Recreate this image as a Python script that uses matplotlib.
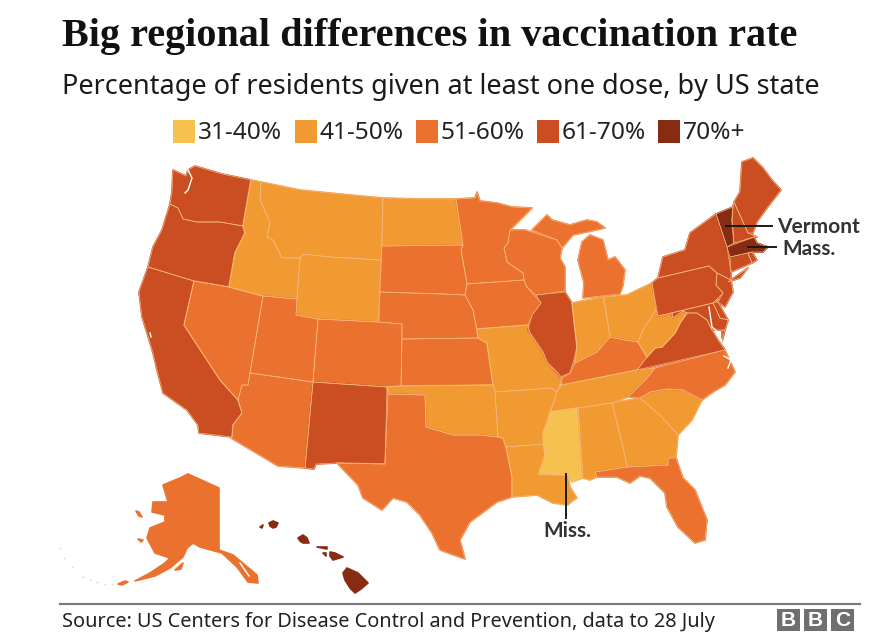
import matplotlib
matplotlib.use('Agg')
import matplotlib.pyplot as plt
from matplotlib.patches import Polygon, Rectangle

legend_labels = ['31-40%', '41-50%', '51-60%', '61-70%', '70%+']
colors = ['#F6C14F', '#F09A31', '#EB722E', '#CB4E23', '#872C12']

# vaccination band per state, index into legend_labels
bands = {
    'WA': 3, 'OR': 3, 'CA': 3, 'NV': 2, 'ID': 1, 'MT': 1, 'WY': 1, 'UT': 2, 'AZ': 2, 'CO': 2,
    'NM': 3, 'ND': 1, 'SD': 2, 'NE': 2, 'KS': 2, 'OK': 1, 'TX': 2, 'MN': 2, 'IA': 2, 'MO': 1,
    'AR': 1, 'LA': 1, 'WI': 2, 'IL': 3, 'MI': 2, 'IN': 1, 'OH': 1, 'KY': 2, 'TN': 1, 'MS': 0,
    'AL': 1, 'GA': 1, 'FL': 2, 'SC': 1, 'NC': 2, 'VA': 3, 'WV': 1, 'PA': 3, 'NY': 3, 'NJ': 3,
    'DE': 3, 'MD': 3, 'CT': 3, 'RI': 3, 'MA': 4, 'VT': 4, 'NH': 3, 'ME': 3, 'AK': 2, 'HI': 4,
}

# outlines, in image pixels
shapes = {
    'WA': [[(173,170),(186,176),(188,170),(195,166),(222,174),(251,180),(243,226),(220,222),(197,222),(183,219),(178,208),(170,204),(172,192)]],
    'OR': [[(170,204),(178,208),(183,219),(197,222),(220,222),(243,226),(245,233),(235,253),(229,287),(194,281),(148,267),(153,247),(162,230)]],
    'CA': [[(148,267),(194,281),(184,325),(220,380),(238,400),(242,413),(233,425),(232,437),(199,433),(198,425),(187,410),(163,393),(157,370),(153,353),(147,333),(142,317),(139,292)]],
    'NV': [[(194,281),(229,287),(263,296),(250,373),(248,385),(242,385),(238,400),(220,380),(184,325)]],
    'ID': [[(251,180),(261,182),(260,200),(270,222),(267,237),(273,240),(282,258),(300,258),(297,299),(263,296),(229,287),(235,253),(245,233),(243,226)]],
    'MT': [[(261,182),(300,190),(340,194),(383,198),(381,260),(330,257),(303,254),(300,258),(282,258),(273,240),(267,237),(270,222),(260,200)]],
    'WY': [[(303,254),(330,257),(381,260),(378,322),(318,319),(296,315),(297,299),(300,258)]],
    'UT': [[(263,296),(297,299),(296,315),(318,319),(313,382),(251,373),(250,373)]],
    'CO': [[(318,319),(378,322),(402,324),(401,386),(387,387),(313,382)]],
    'AZ': [[(250,373),(313,382),(305,468),(278,466),(231,438),(232,437),(233,425),(242,413),(238,400),(242,385),(248,385)]],
    'NM': [[(313,382),(387,387),(385,464),(337,463),(316,464),(314,469),(305,468)]],
    'ND': [[(383,198),(420,199),(456,199),(463,245),(382,246)]],
    'SD': [[(382,246),(463,245),(461,250),(467,283),(465,295),(443,294),(380,292)]],
    'NE': [[(380,292),(443,294),(465,295),(473,310),(478,338),(402,339),(402,324),(379,322)]],
    'KS': [[(402,339),(478,338),(487,343),(493,385),(401,386)]],
    'OK': [[(387,387),(401,386),(493,385),(495,392),(498,437),(480,435),(453,435),(426,427),(425,395),(388,394)]],
    'TX': [[(388,394),(425,395),(426,427),(453,435),(480,435),(498,437),(503,438),(506,447),(512,477),(512,497),(497,502),(470,522),(460,540),(465,559),(440,550),(432,533),(420,515),(407,502),(393,498),(382,510),(363,498),(358,485),(337,463),(385,464)]],
    'MN': [[(456,199),(475,198),(477,192),(480,201),(497,203),(512,207),(532,208),(510,230),(508,243),(504,248),(507,262),(523,273),(524,280),(467,284),(461,250),(463,245)]],
    'IA': [[(467,284),(524,280),(527,287),(541,303),(532,315),(528,325),(477,329),(473,310),(465,295)]],
    'MO': [[(477,329),(528,325),(530,333),(543,352),(547,362),(558,373),(562,378),(557,392),(552,388),(495,392),(493,385),(487,343),(478,338)]],
    'AR': [[(495,392),(552,388),(557,392),(548,420),(543,433),(543,444),(506,447),(503,438),(498,437)]],
    'LA': [[(506,447),(543,444),(545,455),(539,474),(568,475),(570,487),(577,498),(572,501),(568,505),(553,503),(537,495),(512,497),(512,477)]],
    'WI': [[(510,230),(525,230),(557,240),(562,248),(560,258),(565,267),(565,291),(536,295),(527,287),(524,280),(523,273),(507,262),(504,248),(508,243)]],
    'IL': [[(536,295),(565,292),(572,303),(577,347),(573,363),(570,373),(560,377),(547,362),(543,352),(528,330),(532,315),(541,303)]],
    'MI': [[(532,230),(547,215),(552,220),(570,225),(587,220),(597,222),(605,228),(587,232),(573,235),(562,248),(557,240)],
           [(590,235),(603,240),(608,260),(615,257),(625,270),(623,285),(620,294),(583,298),(584,283),(578,260),(582,242)]],
    'IN': [[(572,303),(603,297),(610,337),(597,352),(575,363),(577,347)]],
    'OH': [[(604,297),(627,295),(652,283),(656,310),(643,330),(638,342),(625,340),(610,337)]],
    'KY': [[(562,378),(570,373),(575,363),(597,352),(610,337),(625,340),(638,342),(647,357),(637,370),(562,385)]],
    'TN': [[(562,385),(637,370),(655,368),(647,378),(628,397),(612,403),(578,408),(550,412),(557,392)]],
    'MS': [[(550,412),(578,408),(583,478),(572,482),(568,475),(539,474),(545,455),(543,433),(548,420)]],
    'AL': [[(578,408),(612,403),(623,447),(627,467),(595,472),(597,477),(590,480),(583,478)]],
    'GA': [[(612,403),(640,398),(662,417),(678,435),(676,457),(668,458),(668,465),(627,467),(623,447)]],
    'FL': [[(595,472),(627,467),(668,465),(668,458),(676,458),(683,478),(695,490),(707,520),(705,540),(695,543),(678,527),(667,507),(665,493),(650,478),(640,476),(630,483),(617,477),(597,477)]],
    'SC': [[(640,398),(650,392),(668,389),(683,390),(702,400),(692,420),(678,435),(662,417)]],
    'NC': [[(655,368),(725,350),(735,372),(725,385),(713,392),(702,400),(683,390),(668,389),(650,392),(640,398),(628,397),(647,378)]],
    'VA': [[(637,370),(647,357),(655,348),(662,347),(675,333),(680,323),(687,313),(697,313),(707,320),(712,330),(718,340),(723,347),(725,350)],
           [(722,330),(725,330),(722,342)]],
    'WV': [[(656,310),(658,316),(672,313),(673,318),(683,311),(687,313),(680,323),(675,333),(662,347),(655,348),(647,357),(638,342),(643,330)]],
    'PA': [[(652,283),(658,278),(709,266),(717,273),(716,285),(723,293),(713,303),(658,316)]],
    'NY': [[(658,278),(663,257),(685,250),(690,233),(716,214),(727,247),(731,272),(731,280),(717,273),(709,266)],
           [(728,282),(748,268),(740,278)]],
    'NJ': [[(717,273),(731,280),(733,292),(725,307),(718,302),(723,293),(716,285)]],
    'DE': [[(713,303),(718,302),(728,320),(720,318)]],
    'MD': [[(672,313),(713,303),(720,318),(728,320),(725,330),(712,330),(707,320),(697,313),(687,313),(683,311),(673,318)]],
    'CT': [[(730,257),(748,253),(752,263),(731,272)]],
    'RI': [[(748,253),(752,252),(757,260),(752,263)]],
    'MA': [[(727,247),(754,237),(757,243),(768,247),(763,252),(752,252),(748,253),(730,257)]],
    'VT': [[(716,214),(733,207),(732,220),(734,243),(727,247)]],
    'NH': [[(734,202),(748,233),(757,237),(754,237),(734,243),(732,220),(733,207)]],
    'ME': [[(734,202),(740,192),(742,162),(753,158),(763,168),(772,180),(781,190),(767,208),(757,222),(753,233),(748,233)]],
    'AK': [[(163,485),(180,478),(188,474),(219,488),(219,550),(233,555),(257,575),(258,583),(248,582),(237,567),(222,553),(200,547),(193,543),(187,548),(183,557),(170,568),(155,576),(135,581),(150,573),(165,563),(170,558),(155,553),(147,538),(150,528),(165,522),(165,515),(152,512),(153,502),(168,502)],
           [(175,570),(183,563),(181,569)], [(138,539),(143,540),(141,542)], [(136,511),(139,512),(142,517),(139,516)],
           [(118,584),(125,581),(128,582),(122,585)]],
    'HI': [[(347,568),(358,573),(368,583),(361,589),(355,593),(350,588),(345,580),(343,573)],
           [(330,552),(335,553),(343,557),(333,560),(330,556)],
           [(298,538),(303,535),(307,538),(309,543),(303,543),(300,541)],
           [(269,523),(273,521),(278,523),(276,527),(273,528),(270,526)],
           [(260,527),(263,525),(262,528)], [(317,547),(327,547),(327,549)], [(323,553),(326,553),(326,556)]],
}

# water cut into the coast, drawn as thin white lines
inlets = [
    [(188,170),(192,178),(188,190),(185,193)],
    [(709,307),(712,327),(718,332),(722,342)],
    [(724,356),(731,360),(728,368)],
    [(150,333),(151,337)],
    [(240,563),(249,576)],
]

# Aleutian specks
aleutian_x = [60, 64, 72, 83, 90, 97, 105, 112]
aleutian_y = [548, 558, 567, 577, 580, 582, 584, 584]

fig = plt.figure(figsize=(8.94, 6.44), dpi=100)
ax = fig.add_axes([0, 0, 1, 1])
ax.set_xlim(0, 894)
ax.set_ylim(644, 0)
ax.axis('off')

# first pass closes the seams between neighbours, second draws the pale borders
for state, parts in shapes.items():
    for part in parts:
        ax.add_patch(Polygon(part, closed=True, facecolor=colors[bands[state]],
                             edgecolor=colors[bands[state]], linewidth=1.2, joinstyle='round'))
for state, parts in shapes.items():
    if state in ('AK', 'HI'):
        continue
    for part in parts:
        ax.add_patch(Polygon(part, closed=True, facecolor='none',
                             edgecolor='#F6B67C', linewidth=0.5, joinstyle='round'))
for inlet in inlets:
    ax.plot([p[0] for p in inlet], [p[1] for p in inlet], color='white', lw=1.0)
ax.scatter(aleutian_x, aleutian_y, s=1.5, color='#d8cfc8', linewidths=0)

ax.text(62, 36, 'Big regional differences in vaccination rate', family='Liberation Serif',
        weight='bold', fontsize=29, color='#111111', va='center')
ax.text(62, 87, 'Percentage of residents given at least one dose, by US state', family='Noto Sans',
        fontsize=19.5, color='#1a1a1a', va='center')

swatch_x = [173, 295, 416, 537, 658]
for x, label, color in zip(swatch_x, legend_labels, colors):
    ax.add_patch(Rectangle((x, 120), 22, 23, facecolor=color, edgecolor='none'))
    ax.text(x + 25, 133, label, family='Noto Sans', fontsize=17.6, color='#222222', va='center')

# callouts
ax.plot([726, 772], [226, 226], color='#1a1a1a', lw=1.4)
ax.plot([748, 776], [247, 247], color='#1a1a1a', lw=1.4)
ax.plot([566, 566], [474, 518], color='#1a1a1a', lw=1.4)
ax.text(777, 227, 'Vermont', family='Lato', weight='bold', fontsize=15, color='#333333', va='center')
ax.text(782, 249, 'Mass.', family='Lato', weight='bold', fontsize=15, color='#333333', va='center')
ax.text(567, 531, 'Miss.', family='Lato', weight='bold', fontsize=15, color='#333333', va='center', ha='center')

# footer
ax.plot([60, 860], [604, 604], color='#7a7a7a', lw=1.6)
ax.text(62, 622, 'Source: US Centers for Disease Control and Prevention, data to 28 July', family='Noto Sans',
        fontsize=14.3, color='#222222', va='center')
for x, letter in zip([777, 804, 831], 'BBC'):
    ax.add_patch(Rectangle((x, 609), 23, 22, facecolor='#6f6f6f', edgecolor='none'))
    ax.text(x + 11.5, 620.5, letter, family='Liberation Sans', weight='bold', fontsize=15,
            color='white', ha='center', va='center')

fig.savefig('out.png', dpi=100)
